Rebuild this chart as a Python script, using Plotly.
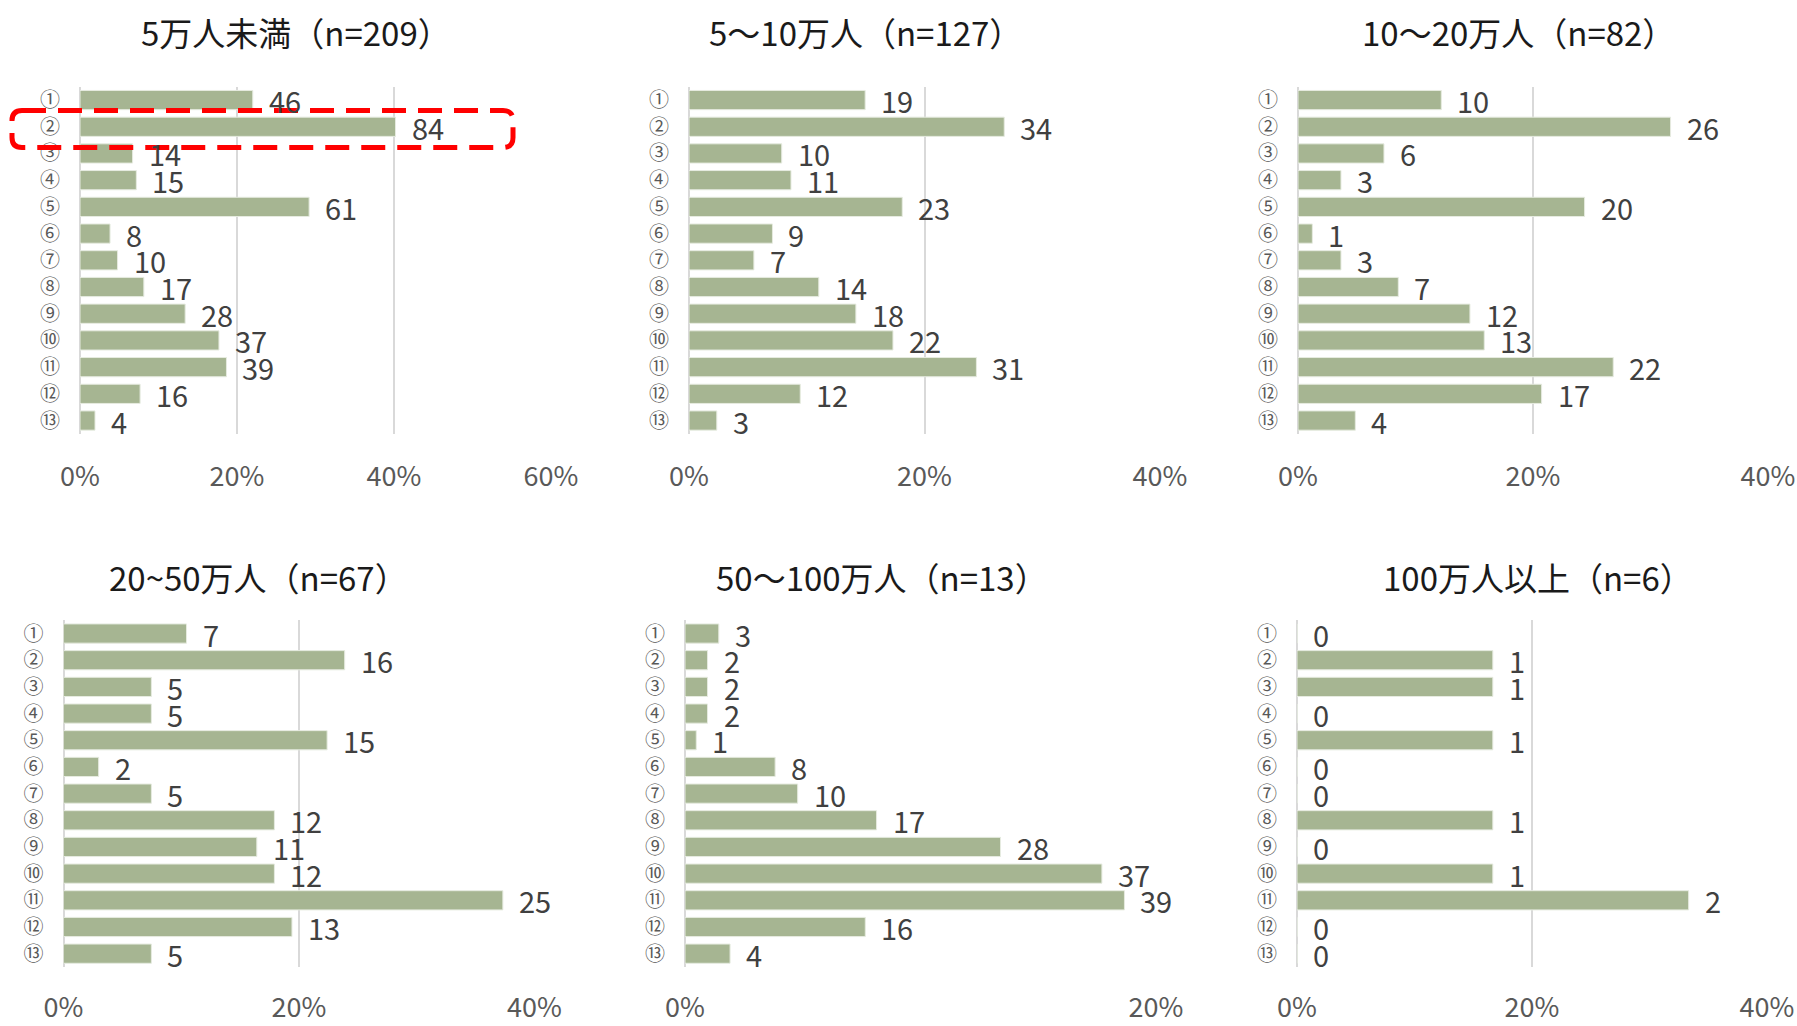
import plotly.graph_objects as go

# Survey responses by municipality population size (counts per option ①–⑬)
items = ["①", "②", "③", "④", "⑤", "⑥", "⑦", "⑧", "⑨", "⑩", "⑪", "⑫", "⑬"]

titles = [
    "5万人未満（n=209）",
    "5～10万人（n=127）",
    "10～20万人（n=82）",
    "20~50万人（n=67）",
    "50～100万人（n=13）",
    "100万人以上（n=6）",
]

counts_under5 = [46, 84, 14, 15, 61, 8, 10, 17, 28, 37, 39, 16, 4]
counts_5_10 = [19, 34, 10, 11, 23, 9, 7, 14, 18, 22, 31, 12, 3]
counts_10_20 = [10, 26, 6, 3, 20, 1, 3, 7, 12, 13, 22, 17, 4]
counts_20_50 = [7, 16, 5, 5, 15, 2, 5, 12, 11, 12, 25, 13, 5]
counts_50_100 = [3, 2, 2, 2, 1, 8, 10, 17, 28, 37, 39, 16, 4]
counts_100plus = [0, 1, 1, 0, 1, 0, 0, 1, 0, 1, 2, 0, 0]

# denominators used for the share axis of each panel
bases = [209, 127, 82, 67, 209, 6]
x_max = [0.6, 0.4, 0.4, 0.4, 0.2, 0.4]

all_counts = [counts_under5, counts_5_10, counts_10_20,
              counts_20_50, counts_50_100, counts_100plus]

W, H = 1797, 1026
FONT = "Noto Sans CJK JP"
BAR = "#A6B592"
GRID = "#D9D9D9"

# plot-area pixel boxes (left, right, top, bottom)
boxes = [
    (80, 551, 86.7, 433.9),
    (689, 1160, 86.7, 433.9),
    (1298, 1768, 86.7, 433.9),
    (63.5, 534.5, 620.2, 967.0),
    (685, 1156, 620.2, 967.0),
    (1297, 1767, 620.2, 967.0),
]
title_pos = [(296, 32), (865, 32), (1518, 32), (258, 577), (882, 577), (1538, 577)]

fig = go.Figure()
annotations = []

for i, (cnts, base, xm, box) in enumerate(zip(all_counts, bases, x_max, boxes)):
    n = i + 1
    xa = "x" if n == 1 else f"x{n}"
    ya = "y" if n == 1 else f"y{n}"
    shares = [c / base for c in cnts]
    fig.add_trace(go.Bar(
        x=shares, y=items, orientation="h",
        xaxis=xa, yaxis=ya,
        marker=dict(color=BAR, line=dict(color="#E6EBE0", width=1)),
        width=0.72, hoverinfo="skip", showlegend=False,
    ))
    l, r, t, b = box
    bottom_row = i >= 3
    axis_x = dict(
        domain=[l / W, r / W], anchor=ya, range=[0, xm],
        dtick=0.2, tick0=0, tickformat=".0%",
        showgrid=True, gridcolor=GRID, gridwidth=2,
        zeroline=True, zerolinecolor=GRID, zerolinewidth=2,
        showline=False, ticks="", automargin=False,
        ticklabelstandoff=22 if bottom_row else 24,
        tickfont=dict(family=FONT, size=27, color="#595959"),
        fixedrange=True,
    )
    axis_y = dict(
        domain=[1 - b / H, 1 - t / H], anchor=xa,
        type="category", categoryorder="array", categoryarray=items,
        range=[12.5, -0.5], showgrid=False, zeroline=False, showline=False,
        ticks="", ticklabelstandoff=19, automargin=False,
        tickfont=dict(family=FONT, size=20, color="#595959"),
        fixedrange=True,
    )
    fig.layout["xaxis" if n == 1 else f"xaxis{n}"] = axis_x
    fig.layout["yaxis" if n == 1 else f"yaxis{n}"] = axis_y

    for lab, s, c in zip(items, shares, cnts):
        annotations.append(dict(
            x=s, y=lab, xref=xa, yref=ya, text=str(c), showarrow=False,
            xanchor="left", yanchor="middle", xshift=14, yshift=0,
            font=dict(family=FONT, size=29, color="#404040"),
        ))

    tx, ty = title_pos[i]
    annotations.append(dict(
        x=tx / W, y=1 - ty / H, xref="paper", yref="paper", text=titles[i],
        showarrow=False, xanchor="center", yanchor="middle",
        font=dict(family=FONT, size=33, color="#1A1A1A"),
    ))

# dashed rounded highlight around option ② in the first panel
x0, x1, y0, y1, rad = 12 / W, 513 / W, 1 - 110.5 / H, 1 - 147.5 / H, 10
rx, ry = rad / W, rad / H
path = (f"M {x0 + rx},{y0} L {x1 - rx},{y0} Q {x1},{y0} {x1},{y0 - ry} "
        f"L {x1},{y1 + ry} Q {x1},{y1} {x1 - rx},{y1} "
        f"L {x0 + rx},{y1} Q {x0},{y1} {x0},{y1 + ry} "
        f"L {x0},{y0 - ry} Q {x0},{y0} {x0 + rx},{y0} Z")
fig.add_shape(type="path", path=path, xref="paper", yref="paper",
              line=dict(color="#FF0000", width=5, dash="24px,12px"),
              layer="above")

fig.update_layout(
    width=W, height=H, margin=dict(l=0, r=0, t=0, b=0, autoexpand=False),
    paper_bgcolor="white", plot_bgcolor="white",
    bargap=0.28, annotations=annotations,
    font=dict(family=FONT),
)

fig.write_html("out.html", config={"displayModeBar": False})
